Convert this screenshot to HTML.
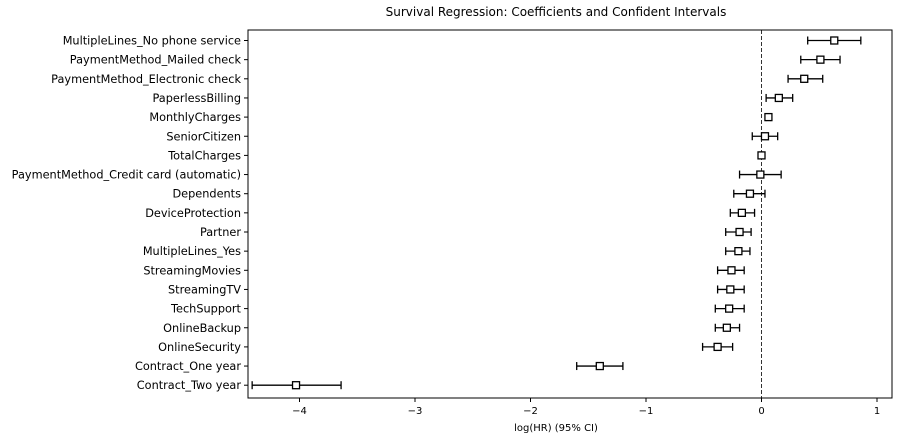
<!DOCTYPE html>
<html><head><meta charset="utf-8"><style>
body{margin:0;background:#fff;font-family:"Liberation Sans","DejaVu Sans",sans-serif;}
svg text{font-family:"DejaVu Sans","Liberation Sans",sans-serif;font-size:10px;fill:#000;}
svg text.yl{font-size:11.3px;}
</style></head><body>
<svg id="chart" width="904" height="441">
<rect x="0" y="0" width="904" height="441" fill="#fff"/>
<text x="556" y="16" text-anchor="middle" style="font-size:12px">Survival Regression: Coefficients and Confident Intervals</text>
<rect x="248" y="30" width="644" height="368" fill="none" stroke="#000" stroke-width="1"/>
<text x="556" y="431" text-anchor="middle">log(HR) (95% CI)</text>
<g id="marks"></g>
</svg>
<script>
const categories=["MultipleLines_No phone service","PaymentMethod_Mailed check","PaymentMethod_Electronic check","PaperlessBilling","MonthlyCharges","SeniorCitizen","TotalCharges","PaymentMethod_Credit card (automatic)","Dependents","DeviceProtection","Partner","MultipleLines_Yes","StreamingMovies","StreamingTV","TechSupport","OnlineBackup","OnlineSecurity","Contract_One year","Contract_Two year"];
const coefs=[0.63,0.51,0.37,0.15,0.06,0.03,0.0,-0.01,-0.10,-0.17,-0.19,-0.20,-0.26,-0.27,-0.28,-0.30,-0.38,-1.40,-4.03];
const lower=[0.40,0.34,0.23,0.04,0.04,-0.08,-0.005,-0.19,-0.24,-0.27,-0.31,-0.31,-0.38,-0.38,-0.40,-0.40,-0.51,-1.60,-4.41];
const upper=[0.86,0.68,0.53,0.27,0.08,0.14,0.005,0.17,0.03,-0.06,-0.09,-0.10,-0.15,-0.15,-0.15,-0.19,-0.25,-1.20,-3.64];
const xTicks=[-4,-3,-2,-1,0,1];
const xTickLabels=["−4","−3","−2","−1","0","1"];
const NS="http://www.w3.org/2000/svg";
const xs=v=>761.5+v*115.5;
const ys=i=>40.5+i*19.15;
const g=document.getElementById('marks');
function mk(t,a){const e=document.createElementNS(NS,t);for(const k in a)e.setAttribute(k,a[k]);g.appendChild(e);return e;}
const zl=mk('line',{x1:xs(0),x2:xs(0),y1:30,y2:398,stroke:'#000','stroke-width':0.8,'stroke-dasharray':'4,2'});


xTicks.forEach((v,i)=>{
 const t=mk('line',{x1:xs(v),x2:xs(v),y1:398,y2:402,stroke:'#000'});
 
 
 const l=mk('text',{x:xs(v),y:414,'text-anchor':'middle'});l.textContent=xTickLabels[i];
 
 
});
categories.forEach((c,i)=>{
 const y=ys(i);
 const t=mk('line',{x1:244,x2:248,y1:y,y2:y,stroke:'#000'});
 
 
 const l=mk('text',{x:241,y:y+4,'text-anchor':'end','class':'yl'});l.textContent=c;
 
 
 const ci=mk('line',{x1:xs(lower[i]),x2:xs(upper[i]),y1:y,y2:y,stroke:'#000','stroke-width':1.3});
 
 
 [lower[i],upper[i]].forEach(v=>{
  const cap=mk('line',{x1:xs(v),x2:xs(v),y1:y-4,y2:y+4,stroke:'#000','stroke-width':1.3});
  
  
 });
 const p=mk('rect',{x:xs(coefs[i])-3.5,y:y-3.5,width:7,height:7,fill:'#fff',stroke:'#000','stroke-width':1.3});
 
 
});
</script>
</body></html>
